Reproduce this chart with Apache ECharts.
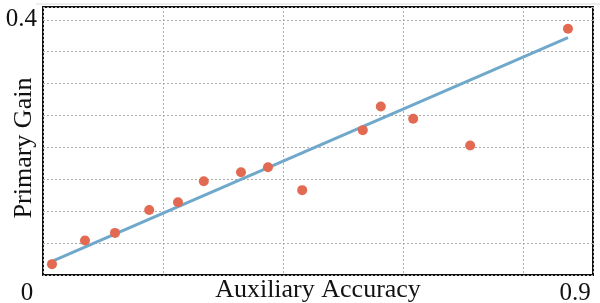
<!DOCTYPE html>
<html>
<head>
<meta charset="utf-8">
<script src="https://cdn.jsdelivr.net/npm/echarts@6/dist/echarts.min.js"></script>
<style>
  html, body { margin: 0; padding: 0; background: #fff; }
  #chart { width: 600px; height: 303px; }
</style>
</head>
<body>
<div id="chart"></div>
<script>
// scatter points (auxiliary accuracy, primary gain)
const pointX = [0.015, 0.07, 0.12, 0.177, 0.225, 0.268, 0.33, 0.375, 0.432, 0.533, 0.563, 0.617, 0.712, 0.875];
const pointY = [0.017, 0.054, 0.066, 0.102, 0.114, 0.147, 0.161, 0.169, 0.133, 0.227, 0.264, 0.245, 0.203, 0.386];
// fitted line end points
const fitX = [0.012, 0.875];
const fitY = [0.020, 0.372];
// tick labels shown at the axis ends
const xTickLabels = ['0', '0.9'];
const yTickLabels = ['0.4'];

const X_MAX = 0.9167;
const FONT = '"Liberation Serif", "DejaVu Serif", serif';

const chart = echarts.init(document.getElementById('chart'));

chart.setOption({
  animation: false,
  backgroundColor: '#fff',
  grid: {
    left: 43, right: 7, top: 7, bottom: 28,
    containLabel: false, outerBoundsMode: 'none',
    show: true, borderColor: '#111', borderWidth: 2
  },
  // faint rule above the frame
  graphic: [{
    type: 'line',
    shape: { x1: 36, y1: 4, x2: 600, y2: 4 },
    style: { stroke: '#dcdcdc', lineWidth: 1 },
    silent: true
  }],
  xAxis: {
    type: 'value',
    min: 0,
    max: X_MAX,
    interval: 0.2,
    name: 'Auxiliary Accuracy',
    nameLocation: 'middle',
    nameGap: 2,
    nameMoveOverlap: false,
    nameTextStyle: { fontFamily: FONT, fontSize: 26, color: '#111' },
    axisLine: { show: false },
    axisTick: { show: false },
    splitLine: { show: true, lineStyle: { color: '#aaa', type: [2, 2], width: 1 } },
    axisLabel: {
      margin: 6,
      showMinLabel: true,
      showMaxLabel: true,
      hideOverlap: false,
      formatter: function (v) {
        if (Math.abs(v) < 1e-9) return '{z|' + xTickLabels[0] + '}';
        if (Math.abs(v - X_MAX) < 1e-6) return '{n|' + xTickLabels[1] + '}';
        return '';
      },
      rich: {
        z: { fontFamily: FONT, fontSize: 25, color: '#111', padding: [0, 32, 0, 0] },
        n: { fontFamily: FONT, fontSize: 25, color: '#111', padding: [0, 36, 0, 0] }
      }
    }
  },
  yAxis: {
    type: 'value',
    min: 0,
    max: 0.42,
    interval: 0.05,
    name: 'Primary Gain',
    nameLocation: 'middle',
    nameGap: 6,
    nameRotate: 90,
    nameMoveOverlap: false,
    nameTextStyle: { fontFamily: FONT, fontSize: 26, color: '#111', padding: [0, 14, 0, 0] },
    axisLine: { show: false },
    axisTick: { show: false },
    splitLine: { show: true, lineStyle: { color: '#aaa', type: [2, 2], width: 1 } },
    axisLabel: {
      margin: 6,
      fontFamily: FONT,
      fontSize: 25,
      color: '#111',
      showMaxLabel: false,
      formatter: function (v) {
        return yTickLabels.indexOf(String(v)) >= 0 ? String(v) : '';
      }
    }
  },
  series: [
    {
      type: 'line',
      data: fitX.map((x, i) => [x, fitY[i]]),
      showSymbol: false,
      lineStyle: { color: '#6fa8cb', width: 3 },
      z: 2
    },
    {
      type: 'scatter',
      data: pointX.map((x, i) => [x, pointY[i]]),
      symbolSize: 10,
      itemStyle: { color: '#e26a52', opacity: 1 },
      z: 3
    }
  ]
});
</script>
</body>
</html>
